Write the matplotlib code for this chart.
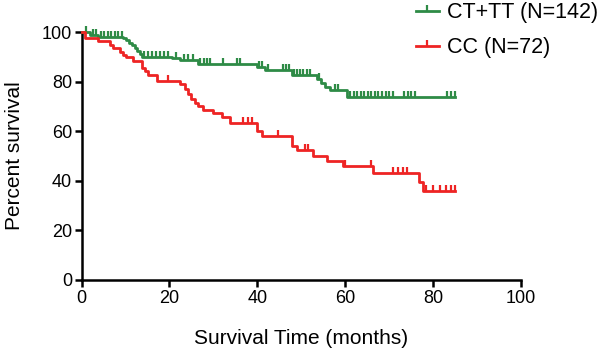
import numpy as np
import matplotlib.pyplot as plt

plt.rcParams['font.family'] = ['Liberation Sans', 'DejaVu Sans']

# Kaplan-Meier steps (time, survival after the step)
green_t = [0, 1.9, 3.8, 9.5, 10.2, 10.9, 11.5, 12.1, 12.6, 13.2, 13.7, 20.5, 22.4, 26.6,
           39.9, 41.8, 47.8, 53.5, 54.5, 55.4, 56.5, 60.4, 85.0]
green_v = [100, 99.0, 98.2, 97.5, 96.8, 95.8, 94.7, 93.6, 92.4, 91.1, 90.1, 89.4, 88.7, 87.3,
           86.0, 84.6, 82.6, 81.0, 79.6, 78.0, 76.6, 74.0, 74.0]
green_cens = [1.0, 2.5, 3.2, 4.5, 5.2, 6.0, 6.8, 7.6, 8.4, 9.2,
              14.3, 15.2, 16.1, 17.0, 17.9, 18.8, 19.7, 21.5, 23.4, 24.2, 25.3,
              27.0, 27.8, 28.5, 29.3, 32.3, 35.3, 36.0, 40.5, 41.0, 42.5,
              45.9, 46.6, 47.2, 48.4, 49.1, 49.8, 50.5, 51.3, 52.0, 54.0, 57.7, 58.4,
              61.2, 62.0, 62.8, 63.6, 64.4, 65.2, 66.0, 66.8, 67.6, 68.4, 69.2, 70.0, 70.8,
              73.5, 74.3, 75.1, 75.9, 83.3, 84.1, 85.0]

red_t = [0, 0.8, 3.8, 6.4, 7.2, 8.7, 9.5, 10.2, 11.7, 13.7, 14.4, 15.2, 17.1, 22.4, 23.5,
         24.3, 25.0, 25.8, 26.6, 27.7, 30.0, 31.9, 33.8, 39.9, 41.0, 47.8, 49.0, 52.7,
         55.8, 59.6, 66.4, 76.9, 77.8, 85.0]
red_v = [100, 97.8, 96.5, 95.0, 93.6, 92.2, 91.0, 89.8, 88.5, 85.6, 84.2, 82.8, 80.2, 78.9, 77.0,
         74.9, 72.9, 71.5, 70.2, 68.8, 67.4, 65.6, 63.5, 60.2, 58.3, 54.0, 52.4, 50.2,
         48.0, 46.0, 43.2, 39.4, 35.8, 35.8]
red_cens = [19.7, 36.8, 37.9, 38.9, 44.8, 50.9, 51.6, 59.9, 66.0, 71.0, 72.1, 73.2, 74.2,
            78.5, 80.0, 81.5, 83.0, 84.2, 85.0]

green_c = '#2e8b46'
red_c = '#ee2424'
tick_up = [(0, 0), (0, 1)]


def surv_at(t, v, x):
    i = np.searchsorted(t, x, side='right') - 1
    return np.array(v)[i]


fig = plt.figure(figsize=(6, 3.58), dpi=100)
ax = fig.add_axes([0.136, 0.218, 0.732, 0.692])

for t, v, cens, col, lab in [(green_t, green_v, green_cens, green_c, 'CT+TT (N=142)'),
                              (red_t, red_v, red_cens, red_c, 'CC (N=72)')]:
    ax.step(t, v, where='post', color=col, lw=2, clip_on=False, zorder=3)
    ax.plot(cens, surv_at(t, v, cens), ls='none', marker=tick_up, ms=8, mew=1.6,
            color=col, clip_on=False, zorder=3)
    ax.plot([], [], color=col, lw=2, marker=tick_up, ms=8, mew=1.6, label=lab)

ax.set_xlim(0, 100)
ax.set_ylim(0, 100)
ax.set_xticks(range(0, 101, 20))
ax.set_yticks(range(0, 101, 20))
for s in ['top', 'right']:
    ax.spines[s].set_visible(False)
for s in ['left', 'bottom']:
    ax.spines[s].set_linewidth(1.8)
ax.tick_params(direction='out', length=5, width=1.8, labelsize=13, pad=2)
ax.set_xlabel('Survival Time (months)', fontsize=15, labelpad=16)
ax.set_ylabel('Percent survival', fontsize=15, labelpad=13)

fig.legend(loc='upper right', bbox_to_anchor=(1.0, 1.0), frameon=False, fontsize=15.5,
           handlelength=1.1, handletextpad=0.35, labelspacing=0.65,
           borderaxespad=0, borderpad=0.1)

fig.savefig('out.png', dpi=100)
